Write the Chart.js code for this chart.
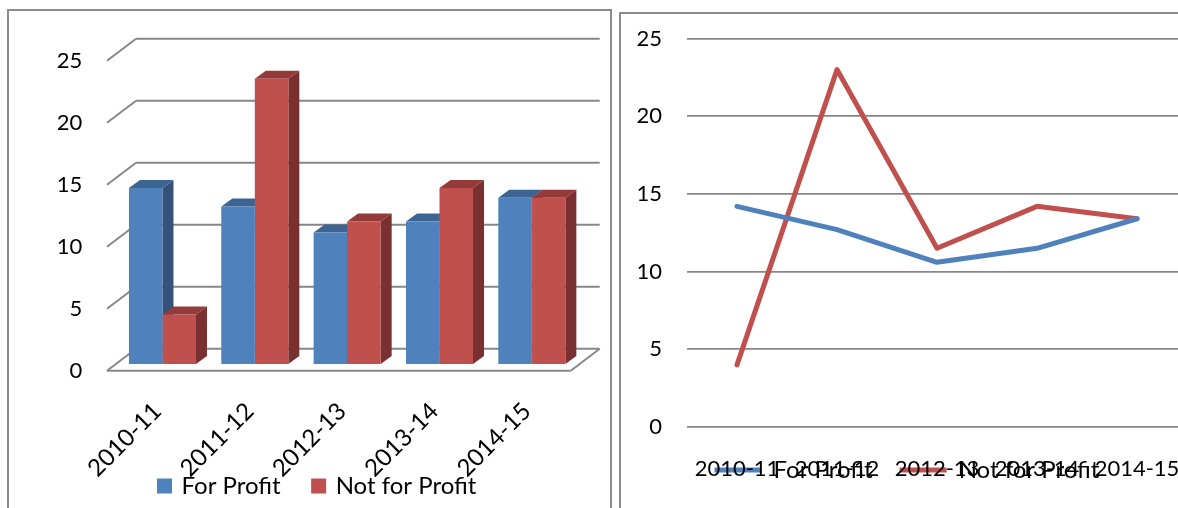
<!DOCTYPE html>
<html>
<head>
<meta charset="utf-8">
<script src="https://cdn.jsdelivr.net/npm/chart.js@4/dist/chart.umd.min.js"></script>
<style>
    html, body { margin: 0; padding: 0; background: #fff; overflow: hidden; width: 1178px; height: 508px; }
    .frame { position: absolute; border: 2.5px solid #8c8c8c; border-bottom: none; box-sizing: border-box; }
    #frame-left { left: 7px; top: 9px; width: 605px; height: 520px; }
    #frame-right { left: 619px; top: 12px; width: 600px; height: 520px; }
    canvas { position: absolute; top: 0; }
    #bar-chart { left: 0; }
    #line-chart { left: 620px; }
</style>
</head>
<body>
<div class="frame" id="frame-left"></div>
<div class="frame" id="frame-right"></div>
<canvas id="bar-chart" width="615" height="561"></canvas>
<canvas id="line-chart" width="570" height="548"></canvas>
<script>
// Data
const categories = ['2010-11', '2011-12', '2012-13', '2013-14', '2014-15'];
const forProfit = [14.2, 12.7, 10.6, 11.5, 13.4];
const notForProfit = [4.0, 23.0, 11.5, 14.2, 13.4];
const seriesNames = ['For Profit', 'Not for Profit'];

const blue = '#4f81bd';
const red = '#c0504d';
const gridColor = '#878787';
const fontFamily = 'Lato, "Open Sans", sans-serif';
const tickFontSize = 22;
const legendFontSize = 24;

// 3D look of the left chart: offsets relative to the plane the bars stand on
const barDepth = { x: 11, y: 8 };
const frontPlane = { x: -9.3, y: 6.7 };
const backPlane = { x: 19.7, y: -15.3 };
const floorExtra = 2;
const faceColors = [
    { top: '#3d6594', side: '#34527a' },
    { top: '#943a38', side: '#7a3030' }
];

function strokeLine(ctx, x1, y1, x2, y2) {
    ctx.beginPath();
    ctx.moveTo(x1, y1);
    ctx.lineTo(x2, y2);
    ctx.stroke();
}

function fillPoly(ctx, color, pts) {
    ctx.fillStyle = color;
    ctx.beginPath();
    pts.forEach((p, i) => (i ? ctx.lineTo(p[0], p[1]) : ctx.moveTo(p[0], p[1])));
    ctx.closePath();
    ctx.fill();
}

const box3d = {
    id: 'box3d',
    beforeDatasetsDraw(chart) {
        const { ctx, chartArea, scales } = chart;
        const left = chartArea.left, right = chartArea.right + floorExtra;
        ctx.save();
        ctx.strokeStyle = gridColor;
        ctx.lineWidth = 2;

        // back wall lines and left wall diagonals
        scales.y.ticks.forEach(tick => {
            const y = scales.y.getPixelForValue(tick.value);
            strokeLine(ctx, left + backPlane.x, y + backPlane.y, right + backPlane.x, y + backPlane.y);
            strokeLine(ctx, left + frontPlane.x, y + frontPlane.y, left + backPlane.x, y + backPlane.y);
        });

        // floor
        const y0 = scales.y.getPixelForValue(0);
        strokeLine(ctx, left + frontPlane.x, y0 + frontPlane.y, right + frontPlane.x, y0 + frontPlane.y);
        strokeLine(ctx, right + frontPlane.x, y0 + frontPlane.y, right + backPlane.x, y0 + backPlane.y);

        // top and side faces, blue first so red sits over it
        chart.data.datasets.forEach((ds, i) => {
            chart.getDatasetMeta(i).data.forEach(bar => {
                const p = bar.getProps(['x', 'y', 'base', 'width'], true);
                const l = p.x - p.width / 2, r = p.x + p.width / 2;
                fillPoly(ctx, faceColors[i].side, [
                    [r, p.y], [r + barDepth.x, p.y - barDepth.y],
                    [r + barDepth.x, p.base - barDepth.y], [r, p.base]
                ]);
                fillPoly(ctx, faceColors[i].top, [
                    [l, p.y], [l + barDepth.x, p.y - barDepth.y],
                    [r + barDepth.x, p.y - barDepth.y], [r, p.y]
                ]);
            });
        });
        ctx.restore();
    }
};

// The legends sit over the axis label space, so move them after layout
const moveLegend = {
    id: 'moveLegend',
    afterLayout(chart, args, opts) {
        const legend = chart.legend;
        const pad = legend.options.labels.padding;
        const h = legend.bottom - legend.top;
        legend.top = opts.centerY - pad - legendFontSize / 2;
        legend.bottom = legend.top + h;
        legend.left = opts.startX - pad;
    }
};

Chart.defaults.font.family = fontFamily;
Chart.defaults.font.size = tickFontSize;
Chart.defaults.color = '#000';

// Left chart
new Chart(document.getElementById('bar-chart'), {
    type: 'bar',
    data: {
        labels: categories,
        datasets: [
            { label: seriesNames[0], data: forProfit, backgroundColor: blue },
            { label: seriesNames[1], data: notForProfit, backgroundColor: red }
        ]
    },
    options: {
        responsive: false,
        animation: false,
        barPercentage: 1,
        categoryPercentage: 0.726,
        layout: { padding: { top: 54, left: 0, right: 37, bottom: 0 } },
        plugins: {
            tooltip: { enabled: false },
            moveLegend: { startX: 159.5, centerY: 486 },
            legend: {
                position: 'bottom',
                align: 'start',
                labels: {
                    usePointStyle: true, pointStyle: 'rect', boxWidth: 10, boxHeight: 15,
                    padding: 33, color: '#000', font: { size: legendFontSize }
                }
            }
        },
        scales: {
            x: {
                grid: { display: false },
                border: { display: false },
                afterFit(scale) { scale.height = 130; scale.paddingLeft = 0; scale.paddingRight = 0; },
                ticks: {
                    font: { size: legendFontSize }, minRotation: 45, maxRotation: 45,
                    autoSkip: false, padding: 25, labelOffset: -5
                }
            },
            y: {
                min: 0,
                max: 25,
                grid: { display: false },
                border: { display: false },
                afterFit(scale) { scale.width = 116.3; },
                ticks: { stepSize: 5, padding: 26, labelOffset: 6.7 }
            }
        }
    },
    plugins: [box3d, moveLegend]
});

// Right chart
new Chart(document.getElementById('line-chart'), {
    type: 'line',
    data: {
        labels: categories,
        datasets: [
            { label: seriesNames[0], data: forProfit, borderColor: blue, backgroundColor: blue },
            { label: seriesNames[1], data: notForProfit, borderColor: red, backgroundColor: red }
        ].map(ds => Object.assign(ds, {
            borderWidth: 5, pointRadius: 0, pointStyle: 'line', tension: 0,
            borderCapStyle: 'round', borderJoinStyle: 'round', clip: false
        }))
    },
    options: {
        responsive: false,
        animation: false,
        layout: { padding: { top: 38.5, left: 0, right: 3, bottom: 0 } },
        plugins: {
            tooltip: { enabled: false },
            moveLegend: { startX: 94.5, centerY: 470 },
            legend: {
                position: 'bottom',
                align: 'start',
                labels: {
                    usePointStyle: true, pointStyleWidth: 47, padding: 27,
                    color: '#000', font: { size: legendFontSize }
                }
            }
        },
        scales: {
            x: {
                offset: true,
                grid: { display: false },
                border: { display: false },
                afterFit(scale) { scale.height = 60; scale.paddingLeft = 0; scale.paddingRight = 0; },
                ticks: { maxRotation: 0, autoSkip: false, padding: 21 }
            },
            y: {
                min: 0,
                max: 25,
                grid: { color: gridColor, lineWidth: 1.8, drawTicks: false },
                border: { display: false },
                afterFit(scale) { scale.width = 67; },
                ticks: { stepSize: 5, padding: 25 }
            }
        }
    },
    plugins: [moveLegend]
});
</script>
</body>
</html>
